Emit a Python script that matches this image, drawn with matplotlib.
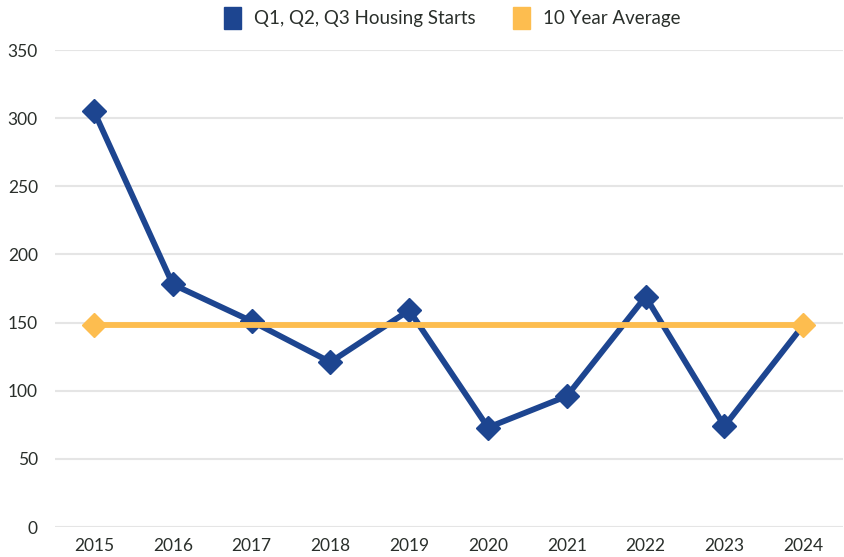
import matplotlib
matplotlib.use("Agg")
import matplotlib.pyplot as plt
from matplotlib.patches import Patch

years = ["2015", "2016", "2017", "2018", "2019", "2020", "2021", "2022", "2023", "2024"]
starts = [305, 178, 151, 121, 159, 73, 96, 169, 74, 148]
average = [148] * 10
yticks = [0, 50, 100, 150, 200, 250, 300, 350]

blue = "#1d4590"
yellow = "#fdbd4f"
text_color = "#2a2f2b"

plt.rcParams["font.family"] = ["Lato", "DejaVu Sans"]

fig = plt.figure(figsize=(8.45, 5.57), dpi=100)
ax = fig.add_axes([54.6 / 845, 1 - 527 / 557, 788 / 845, 477 / 557])

x = list(range(len(years)))
ax.plot(x, starts, color=blue, lw=4.2, marker="D", markersize=12, zorder=3,
        markevery=list(range(len(years) - 1)), solid_joinstyle="miter")
ax.plot(x, average, color=yellow, lw=4.2, marker="D", markersize=12.5,
        markevery=[0, len(years) - 1], zorder=4)

ax.set_xlim(-0.5, len(years) - 0.5)
ax.set_ylim(0, 350)
ax.set_yticks(yticks)
ax.set_xticks(x)
ax.set_xticklabels(years)
ax.grid(axis="y", color="#e5e5e5", lw=1.5)
ax.set_axisbelow(True)
for s in ax.spines.values():
    s.set_visible(False)
ax.tick_params(axis="both", length=0, labelsize=12.5, colors=text_color)
ax.tick_params(axis="y", pad=12)
ax.tick_params(axis="x", pad=8)

handles = [Patch(color=blue, label="Q1, Q2, Q3 Housing Starts"),
           Patch(color=yellow, label="10 Year Average")]
leg = fig.legend(handles=handles, loc="center", bbox_to_anchor=(0.535, 1 - 18 / 557),
                 ncol=2, frameon=False, fontsize=13.5, handlelength=0.9,
                 handleheight=1.4, columnspacing=2.0, handletextpad=0.7)
for t in leg.get_texts():
    t.set_color(text_color)

fig.savefig("out.png", dpi=100)
